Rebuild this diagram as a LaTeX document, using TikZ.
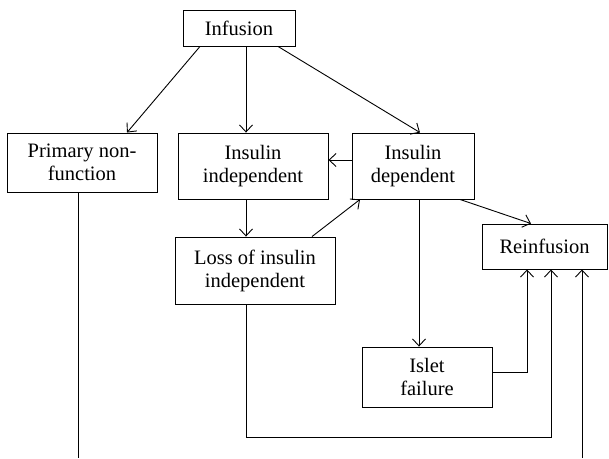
\documentclass[tikz,border=0pt]{standalone}
\usepackage{fontspec}
\setmainfont{Liberation Serif}
\usetikzlibrary{arrows.meta}
\begin{document}
\begin{tikzpicture}[x=1pt,y=-1pt,
  box/.style={draw,line width=0.9pt,inner sep=0pt,align=center,
    font=\fontsize{20.5}{23}\selectfont},
  conn/.style={line width=0.9pt,-{Straight Barb[length=7pt,width=13pt,line width=0.9pt]}},
  plain/.style={line width=0.9pt}]
\useasboundingbox (0,0) rectangle (609,458);
\node[box,minimum width=112pt,minimum height=36pt] (inf) at (239,28) {Infusion};
\node[box,minimum width=150pt,minimum height=59pt] (prim) at (82,162.5) {Primary non-\\function};
\node[box,minimum width=150pt,minimum height=66pt] (ind) at (253,166) {Insulin\\independent};
\node[box,minimum width=122pt,minimum height=66pt] (dep) at (413,166) {Insulin\\dependent};
\node[box,minimum width=160pt,minimum height=67pt] (loss) at (255,270.5) {Loss of insulin\\independent};
\node[box,minimum width=125pt,minimum height=45pt] (reinf) at (544.5,246.5) {Reinfusion};
\node[box,minimum width=130pt,minimum height=60pt] (islet) at (427,377) {Islet\\failure};
\coordinate (c1) at (551,437);
\coordinate (b1) at (78,458);
\coordinate (b2) at (582,458);
\draw[conn] ([xshift=-39pt]inf.south) -- ([xshift=45pt]prim.north);
\draw[conn] ([xshift=7pt]inf.south) -- ([xshift=-7pt]ind.north);
\draw[conn] ([xshift=39pt]inf.south) -- ([xshift=7pt]dep.north);
\draw[conn] ([yshift=6pt]dep.west) -- ([yshift=6pt]ind.east);
\draw[conn] ([xshift=-7pt]ind.south) -- ([xshift=-9pt]loss.north);
\draw[conn] ([xshift=57pt]loss.north) -- ([xshift=-53pt]dep.south);
\draw[conn] ([xshift=47pt]dep.south) -- ([xshift=-13.5pt]reinf.north);
\draw[conn] ([xshift=6pt]dep.south) -- ([xshift=-8pt]islet.north);
\draw[conn] ([yshift=5pt]islet.east) -| ([xshift=-17.5pt]reinf.south);
\draw[conn] ([xshift=-9pt]loss.south) |- (c1) -- ([xshift=6.5pt]reinf.south);
\draw[plain] ([xshift=-4pt]prim.south) -- (b1);
\draw[conn] (b2) -- ([xshift=37.5pt]reinf.south);
\end{tikzpicture}
\end{document}
